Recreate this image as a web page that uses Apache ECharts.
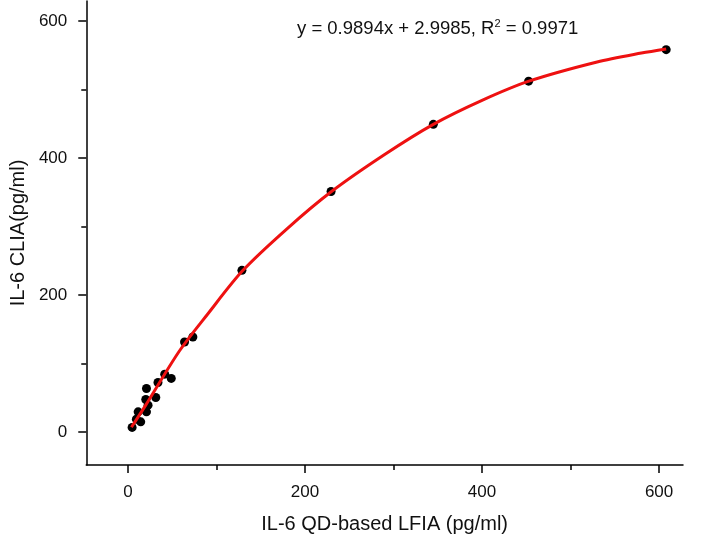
<!DOCTYPE html>
<html>
<head>
<meta charset="utf-8">
<script src="https://cdn.jsdelivr.net/npm/echarts@6/dist/echarts.min.js"></script>
<style>html,body{margin:0;padding:0;background:#fff;}#c{width:709px;height:541px;}</style>
</head>
<body>
<div id="c"></div>
<script>
// Measured points (IL-6 QD-based LFIA vs CLIA)
var pointsX = [4.8, 9.6, 14.5, 11.6, 21.0, 22.8, 20.2, 31.5, 21.0, 34.0, 41.6, 49.0, 64, 73.4, 128.8, 229.5, 345, 452.6, 608];
var pointsY = [6.8, 18.9, 15.0, 29.6, 29.6, 39.3, 47.6, 50.5, 63.6, 72.4, 84.5, 78.3, 131.5, 138.8, 236, 351, 449, 512, 558];
// Red fitted curve
var curveX = [4, 20, 58, 90, 130, 180, 230, 290, 345, 400, 453, 530, 580, 608];
var curveY = [7, 39, 118, 172, 236, 297, 351, 405, 449, 484, 512, 540, 553, 559];
// Tick values
var majorTicks = [0, 200, 400, 600];
var minorTicks = [100, 300, 500];
var equationText = 'y = 0.9894x + 2.9985, R{sup|2} = 0.9971';
var xTitle = 'IL-6 QD-based LFIA (pg/ml)';
var yTitle = 'IL-6 CLIA(pg/ml)';

var FONT = 'Liberation Sans, Arial, Helvetica, sans-serif';
var chart = echarts.init(document.getElementById('c'), null, {renderer: 'canvas'});

function zip(a, b) { return a.map(function (v, i) { return [v, b[i]]; }); }

var axisCommon = {
  type: 'value',
  splitLine: {show: false},
  axisLine: {show: true, onZero: false, lineStyle: {color: '#000', width: 1.5}},
};

var option = {
  backgroundColor: '#ffffff',
  animation: false,
  title: {
    text: equationText,
    left: 292, top: 13,
    textStyle: {
      fontFamily: FONT, fontSize: 18.5, fontWeight: 'normal', color: '#111',
      rich: {sup: {fontFamily: FONT, fontSize: 11, color: '#111', padding: [0, 0, 10, 0]}}
    }
  },
  grid: {left: 83, top: 1, width: 600, height: 464},
  xAxis: [
    Object.assign({}, axisCommon, {
      min: -47, max: 627, position: 'bottom',
      name: xTitle, nameLocation: 'middle', nameGap: 49,
      nameTextStyle: {fontFamily: FONT, fontSize: 20, color: '#111'},
      axisTick: {show: true, inside: false, length: 8, customValues: majorTicks, lineStyle: {color: '#000', width: 1.5}},
      axisLabel: {show: true, customValues: majorTicks, margin: 19, fontFamily: FONT, fontSize: 17, color: '#111'}
    }),
    Object.assign({}, axisCommon, {
      min: -47, max: 627, position: 'bottom',
      axisLine: {show: false, onZero: false},
      axisTick: {show: true, inside: false, length: 5, customValues: minorTicks, lineStyle: {color: '#000', width: 1.5}},
      axisLabel: {show: false}
    })
  ],
  yAxis: [
    Object.assign({}, axisCommon, {
      min: -48, max: 629, position: 'left',
      name: yTitle, nameLocation: 'middle', nameGap: 52,
      nameTextStyle: {fontFamily: FONT, fontSize: 20, color: '#111'},
      axisTick: {show: true, inside: false, length: 8, customValues: majorTicks, lineStyle: {color: '#000', width: 1.5}},
      axisLabel: {show: true, customValues: majorTicks, margin: 19, fontFamily: FONT, fontSize: 17, color: '#111'}
    }),
    Object.assign({}, axisCommon, {
      min: -48, max: 629, position: 'left',
      axisLine: {show: false, onZero: false},
      axisTick: {show: true, inside: false, length: 5, customValues: minorTicks, lineStyle: {color: '#000', width: 1.5}},
      axisLabel: {show: false}
    })
  ],
  series: [
    {
      type: 'line', xAxisIndex: 0, yAxisIndex: 0,
      data: zip(curveX, curveY),
      smooth: 0.3,
      showSymbol: false, symbol: 'none',
      lineStyle: {color: '#ee1111', width: 3},
      z: 3
    },
    {
      type: 'scatter', xAxisIndex: 0, yAxisIndex: 0,
      data: zip(pointsX, pointsY),
      symbol: 'circle', symbolSize: 9,
      itemStyle: {color: '#000000', opacity: 1},
      z: 2
    }
  ]
};
chart.setOption(option);
</script>
</body>
</html>
